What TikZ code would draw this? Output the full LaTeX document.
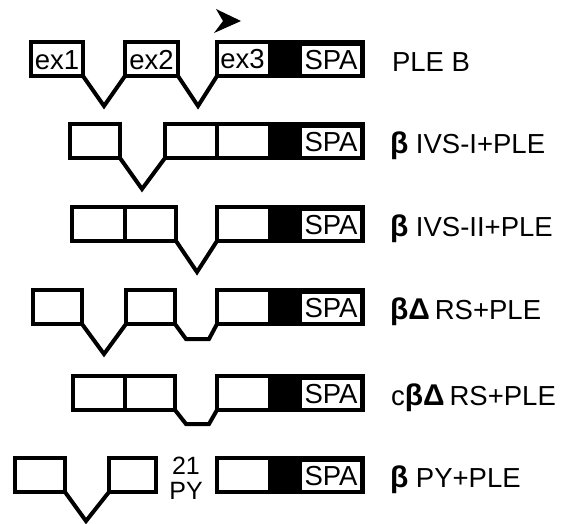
\documentclass[tikz,border=0pt]{standalone}
\usepackage{fontspec}
\setmainfont{Liberation Sans}
\newcommand\tagfont{\fontsize{27.5}{30}\selectfont}
\newcommand\exfont{\fontsize{27.5}{29}\selectfont}
\newcommand\pyfont{\fontsize{25}{25}\selectfont}
\newcommand\gk[1]{{\fontsize{30}{30}\selectfont\bfseries #1}}
% 3' block: white part, black part and the SPA label box
\newcommand\tailblock[3]{%
  \node[exon, minimum width=146pt] (#1) at (290,#2) {};
  \fill ([xshift=51pt]#1.south west) rectangle (#1.north east);
  \node[spabox] (#1spa) at (331,#2+1) {SPA};
  \node[exlabel] (#1txt) at (242.5,#2) {#3};
}
\begin{document}
\begin{tikzpicture}[x=1pt,y=-1pt,line width=4pt,
  exon/.style={draw, rectangle, inner sep=0pt, outer sep=0pt,
    minimum height=34pt, fill=white},
  spabox/.style={fill=white, inner sep=0pt, outer sep=0pt,
    minimum width=58pt, minimum height=28pt, font=\exfont},
  exlabel/.style={inner sep=0pt, font=\exfont},
  tag/.style={anchor=base west, inner sep=0pt, font=\tagfont},
  intron/.style={line width=4pt, miter limit=20}]
\useasboundingbox (0,0) rectangle (563,523);

% transcription start arrow
\fill (216,9) -- (241,21) -- (214,33) -- (223,21) -- cycle;

% row 1: PLE B
\node[exon, minimum width=52pt] (r1a) at (57,59) {};
\node[exlabel] (r1at) at (57,60) {ex1};
\node[exon, minimum width=53pt] (r1b) at (151.5,59) {};
\node[exlabel] (r1bt) at (151.5,60) {ex2};
\tailblock{r1c}{59}{ex3}
\coordinate (r1v1) at (104,106);
\coordinate (r1v2) at (198,106);
\draw[intron] (r1a.south east) -- (r1v1) -- (r1b.south west);
\draw[intron] (r1b.south east) -- (r1v2) -- (r1c.south west);
\node[tag] (r1t) at (390,71) {PLE B};

% row 2: beta IVS-I + PLE
\node[exon, minimum width=50pt] (r2a) at (95,141) {};
\node[exon, minimum width=52pt] (r2b) at (191,141) {};
\tailblock{r2c}{141}{}
\coordinate (r2v) at (142,189);
\draw[intron] (r2a.south east) -- (r2v) -- (r2b.south west);
\node[tag] (r2t) at (388,153) {\gk{β} IVS-I+PLE};

% row 3: beta IVS-II + PLE
\node[exon, minimum width=53pt] (r3a) at (98.5,224) {};
\node[exon, minimum width=51pt] (r3b) at (150.5,224) {};
\tailblock{r3c}{224}{}
\coordinate (r3v) at (197,272);
\draw[intron] (r3b.south east) -- (r3v) -- (r3c.south west);
\node[tag] (r3t) at (388,236) {\gk{β} IVS-II+PLE};

% row 4: beta delta RS + PLE
\node[exon, minimum width=49pt] (r4a) at (57.5,307) {};
\node[exon, minimum width=49pt] (r4b) at (150.5,307) {};
\tailblock{r4c}{307}{}
\coordinate (r4v) at (104,354);
\coordinate (r4s1) at (186,339);
\coordinate (r4s2) at (209,339);
\draw[intron] (r4a.south east) -- (r4v) -- (r4b.south west);
\draw[intron] (r4b.south east) -- (r4s1) -- (r4s2) -- (r4c.south west);
\node[tag] (r4t) at (388,319) {\gk{βΔ}\hspace{5pt}RS+PLE};

% row 5: c beta delta RS + PLE
\node[exon, minimum width=52pt] (r5a) at (99,393) {};
\node[exon, minimum width=50pt] (r5b) at (150,393) {};
\tailblock{r5c}{393}{}
\coordinate (r5s1) at (186,424);
\coordinate (r5s2) at (209,424);
\draw[intron] (r5b.south east) -- (r5s1) -- (r5s2) -- (r5c.south west);
\node[tag] (r5t) at (389,405) {c\gk{βΔ}\hspace{5pt}RS+PLE};

% row 6: beta PY + PLE
\node[exon, minimum width=50pt] (r6a) at (40,475) {};
\node[exon, minimum width=47pt] (r6b) at (132.5,475) {};
\tailblock{r6c}{475}{}
\coordinate (r6v) at (86,521);
\draw[intron] (r6a.south east) -- (r6v) -- (r6b.south west);
\node[inner sep=0pt, font=\pyfont] (r6n) at (186,466) {21};
\node[inner sep=0pt, font=\pyfont] (r6p) at (186,491) {PY};
\node[tag] (r6t) at (388,487) {\gk{β} PY+PLE};
\end{tikzpicture}
\end{document}
